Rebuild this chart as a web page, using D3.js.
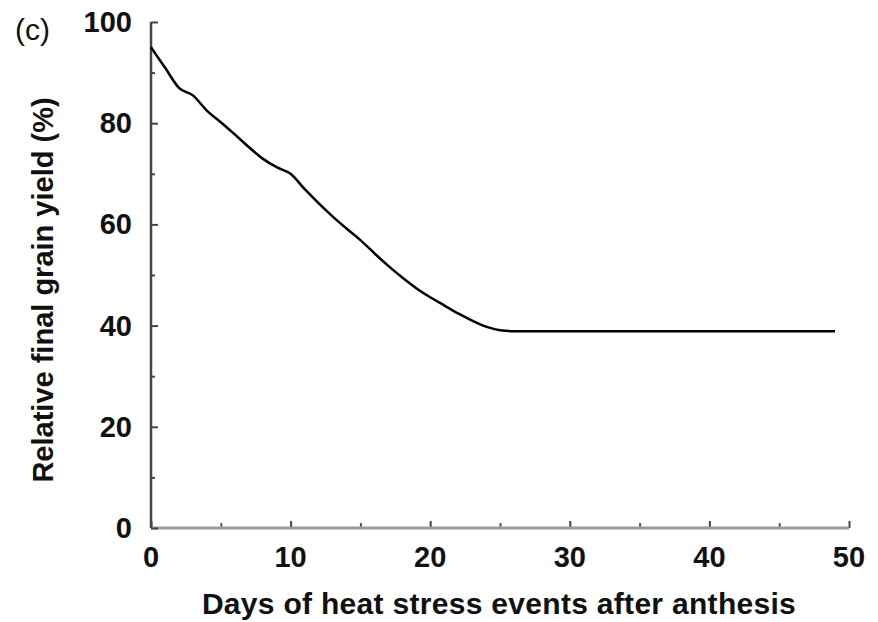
<!DOCTYPE html>
<meta charset="utf-8">
<style>
body { margin: 0; background: #fff; }
text { font-family: "Liberation Sans", Arial, sans-serif; fill: #111; }
</style>
<script src="https://d3js.org/d3.v7.min.js"></script>
<svg width="878" height="622"></svg>
<script>

// values
var days  = [0, 1, 2, 3, 4, 5, 6, 7, 8, 9, 10, 11, 12, 13, 14, 15, 16, 17, 18, 19, 20, 21, 22, 23, 24, 25, 26, 49];
var yield_ = [95, 91, 87, 85.5, 82.5, 80.2, 77.8, 75.3, 73, 71.3, 70, 67, 64.2, 61.6, 59.2, 56.9, 54.3, 51.8, 49.5, 47.4, 45.6, 44, 42.4, 41, 39.8, 39.1, 38.9, 38.9];
var xTicks = [0, 10, 20, 30, 40, 50];
var yTicks = [0, 20, 40, 60, 80, 100];

var svg = d3.select("svg");

var x = d3.scaleLinear().domain([0, 50]).range([151, 849]);
var y = d3.scaleLinear().domain([0, 100]).range([528, 22]);

// minor ticks (inward)
svg.append("g")
    .attr("transform", "translate(0,528)")
    .call(d3.axisTop(x).tickValues(d3.range(5, 50, 10)).tickSize(5).tickFormat(""))
    .call(function(g) { g.select(".domain").remove(); })
    .selectAll("line").attr("stroke", "#555").attr("stroke-width", 2);

svg.append("g")
    .attr("transform", "translate(151,0)")
    .call(d3.axisRight(y).tickValues(d3.range(10, 100, 20)).tickSize(4).tickFormat(""))
    .call(function(g) { g.select(".domain").remove(); })
    .selectAll("line").attr("stroke", "#444").attr("stroke-width", 2);

// x axis
var gx = svg.append("g").attr("transform", "translate(0,528)");
gx.call(d3.axisTop(x).tickValues(xTicks).tickSize(7).tickFormat(""))
    .call(function(g) { g.select(".domain").remove(); })
    .selectAll("line").attr("stroke", "#444").attr("stroke-width", 2);
gx.append("line")
    .attr("x1", x(0)).attr("x2", x(50))
    .attr("stroke", "#999").attr("stroke-width", 3);
gx.selectAll(".lbl")
    .data(xTicks)
    .enter().append("text")
    .attr("class", "lbl")
    .attr("x", function(d) { return x(d); })
    .attr("y", 39)
    .attr("text-anchor", "middle")
    .attr("font-size", 29)
    .attr("font-weight", "bold")
    .text(function(d) { return d; });

// y axis
var gy = svg.append("g").attr("transform", "translate(151,0)");
gy.call(d3.axisRight(y).tickValues(yTicks).tickSize(7).tickFormat(""))
    .call(function(g) { g.select(".domain").remove(); })
    .selectAll("line").attr("stroke", "#444").attr("stroke-width", 2);
gy.append("line")
    .attr("y1", y(0)).attr("y2", y(100))
    .attr("stroke", "#444").attr("stroke-width", 2.5);
gy.selectAll(".lbl")
    .data(yTicks)
    .enter().append("text")
    .attr("class", "lbl")
    .attr("x", -19)
    .attr("y", function(d) { return y(d) + 10; })
    .attr("text-anchor", "end")
    .attr("font-size", 29)
    .attr("font-weight", "bold")
    .text(function(d) { return d; });

// curve
var line = d3.line()
    .x(function(d, i) { return x(days[i]); })
    .y(function(d) { return y(d); })
    .curve(d3.curveMonotoneX);

svg.append("path")
    .datum(yield_)
    .attr("fill", "none")
    .attr("stroke", "#000")
    .attr("stroke-width", 2.5)
    .attr("d", line);

// labels
svg.append("text")
    .attr("x", 499)
    .attr("y", 614)
    .attr("text-anchor", "middle")
    .attr("font-size", 30)
    .attr("letter-spacing", 0.3)
    .attr("font-weight", "bold")
    .text("Days of heat stress events after anthesis");

svg.append("text")
    .attr("transform", "translate(53,290) rotate(-90)")
    .attr("text-anchor", "middle")
    .attr("font-size", 29)
    .attr("font-weight", "bold")
    .text("Relative final grain yield (%)");

svg.append("text")
    .attr("x", 15)
    .attr("y", 40)
    .attr("font-size", 30)
    .text("(c)");

</script>
